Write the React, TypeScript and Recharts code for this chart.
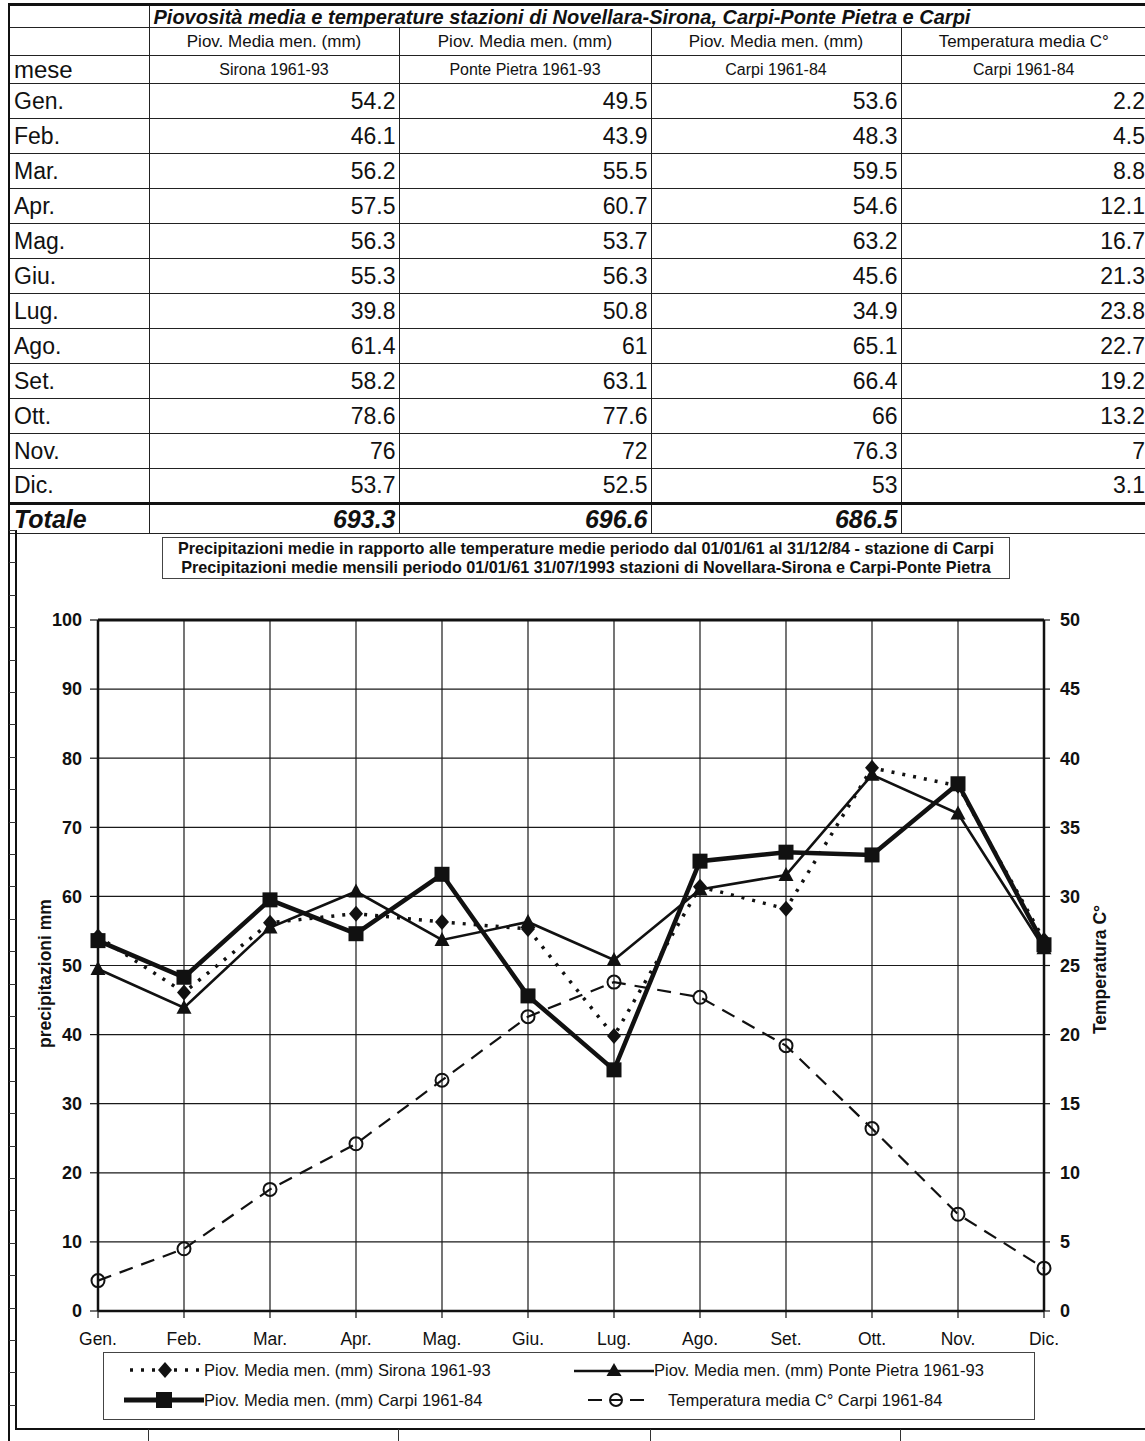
import React from "react";
import { LineChart, Line, XAxis, YAxis, CartesianGrid, ReferenceLine } from "recharts";

// Monthly means, stations Novellara-Sirona, Carpi-Ponte Pietra and Carpi
const months = ["Gen.", "Feb.", "Mar.", "Apr.", "Mag.", "Giu.", "Lug.", "Ago.", "Set.", "Ott.", "Nov.", "Dic."];
const sirona = [54.2, 46.1, 56.2, 57.5, 56.3, 55.3, 39.8, 61.4, 58.2, 78.6, 76, 53.7];
const pontePietra = [49.5, 43.9, 55.5, 60.7, 53.7, 56.3, 50.8, 61, 63.1, 77.6, 72, 52.5];
const carpi = [53.6, 48.3, 59.5, 54.6, 63.2, 45.6, 34.9, 65.1, 66.4, 66, 76.3, 53];
const tempCarpi = [2.2, 4.5, 8.8, 12.1, 16.7, 21.3, 23.8, 22.7, 19.2, 13.2, 7, 3.1];
const totals = [693.3, 696.6, 686.5];

const rainTicks = [0, 10, 20, 30, 40, 50, 60, 70, 80, 90, 100];
const tempTicks = [0, 5, 10, 15, 20, 25, 30, 35, 40, 45, 50];

const colHeads = ["Piov. Media men. (mm)", "Piov. Media men. (mm)", "Piov. Media men. (mm)", "Temperatura media C°"];
const colSubs = ["Sirona 1961-93", "Ponte Pietra 1961-93", "Carpi 1961-84", "Carpi 1961-84"];
const legendNames = [
  "Piov. Media men. (mm) Sirona 1961-93",
  "Piov. Media men. (mm) Ponte Pietra 1961-93",
  "Piov. Media men. (mm) Carpi 1961-84",
  "Temperatura media C° Carpi 1961-84",
];

const data = months.map((m, i) => ({
  mese: m,
  sirona: sirona[i],
  pontePietra: pontePietra[i],
  carpi: carpi[i],
  temp: tempCarpi[i],
}));

const FONT = "'Liberation Sans', Arial, Helvetica, sans-serif";
const INK = "#111";

// markers
const Diamond = (p: any) => (
  <polygon key={`dia-${p.index}`} points={`${p.cx},${p.cy - 8} ${p.cx + 7},${p.cy} ${p.cx},${p.cy + 8} ${p.cx - 7},${p.cy}`} fill={INK} />
);
const Triangle = (p: any) => (
  <polygon key={`tri-${p.index}`} points={`${p.cx},${p.cy - 8} ${p.cx + 7.5},${p.cy + 6} ${p.cx - 7.5},${p.cy + 6}`} fill={INK} />
);
const Square = (p: any) => (
  <rect key={`sq-${p.index}`} x={p.cx - 7.5} y={p.cy - 7.5} width={15} height={15} fill={INK} />
);
const Ring = (p: any) => (
  <circle key={`ring-${p.index}`} cx={p.cx} cy={p.cy} r={6.5} fill="none" stroke={INK} strokeWidth={2} />
);

const axisTitle = (text: string, dx: number, dy: number) => (props: any) => {
  const vb = props.viewBox || {};
  const x = vb.x + dx;
  const y = vb.y + vb.height / 2 + dy;
  return (
    <text
      x={x}
      y={y}
      transform={`rotate(-90, ${x}, ${y})`}
      textAnchor="middle"
      dominantBaseline="central"
      fontFamily={FONT}
      fontWeight="bold"
      fontSize={17.5}
      fill={INK}
    >
      {text}
    </text>
  );
};

const cell = (extra: React.CSSProperties = {}): React.CSSProperties => ({
  border: "1px solid #222",
  padding: "0 4px",
  overflow: "hidden",
  whiteSpace: "nowrap",
  lineHeight: 1,
  ...extra,
});

const HEAD_H = 28;
const ROW_H = 35;

const DataTable = () => (
  <table
    style={{
      position: "absolute",
      left: 8,
      top: 3,
      borderCollapse: "collapse",
      tableLayout: "fixed",
      width: 1137,
      fontFamily: FONT,
      color: INK,
      borderTop: "3px solid #111",
      borderLeft: "2px solid #111",
    }}
  >
    <colgroup>
      <col style={{ width: 140 }} />
      <col style={{ width: 250 }} />
      <col style={{ width: 252 }} />
      <col style={{ width: 250 }} />
      <col style={{ width: 245 }} />
    </colgroup>
    <tbody>
      <tr style={{ height: 22 }}>
        <td style={cell()} />
        <td colSpan={4} style={cell({ fontWeight: "bold", fontStyle: "italic", fontSize: 20, borderRight: "none", paddingTop: 1 })}>
          Piovosità media e temperature stazioni di Novellara-Sirona, Carpi-Ponte Pietra e Carpi
        </td>
      </tr>
      <tr style={{ height: HEAD_H }}>
        <td style={cell()} />
        {colHeads.map((h, i) => (
          <td key={i} style={cell({ textAlign: "center", fontSize: 17, borderRight: i === 3 ? "none" : undefined })}>{h}</td>
        ))}
      </tr>
      <tr style={{ height: HEAD_H }}>
        <td style={cell({ fontSize: 24 })}>mese</td>
        {colSubs.map((h, i) => (
          <td key={i} style={cell({ textAlign: "center", fontSize: 16, borderRight: i === 3 ? "none" : undefined })}>{h}</td>
        ))}
      </tr>
      {months.map((m, i) => (
        <tr key={m} style={{ height: ROW_H }}>
          <td style={cell({ fontSize: 23 })}>{m}</td>
          {[sirona[i], pontePietra[i], carpi[i], tempCarpi[i]].map((v, j) => (
            <td
              key={j}
              style={cell({ textAlign: "right", fontSize: 23, paddingRight: j === 3 ? 1 : 3, borderRight: j === 3 ? "none" : undefined })}
            >
              {v}
            </td>
          ))}
        </tr>
      ))}
      <tr style={{ height: 30 }}>
        <td style={cell({ fontSize: 25, fontWeight: "bold", fontStyle: "italic", borderTop: "3px solid #111" })}>Totale</td>
        {totals.map((t, j) => (
          <td
            key={j}
            style={cell({ textAlign: "right", fontSize: 25, fontWeight: "bold", fontStyle: "italic", borderTop: "3px solid #111", paddingRight: 3 })}
          >
            {t}
          </td>
        ))}
        <td style={cell({ borderTop: "3px solid #111", borderRight: "none" })} />
      </tr>
    </tbody>
  </table>
);

const LegendSample = ({ kind }: { kind: number }) => (
  <svg width={80} height={20} style={{ display: "block" }}>
    {kind === 0 && (
      <>
        <line x1={6} y1={10} x2={76} y2={10} stroke={INK} strokeWidth={3.5} strokeDasharray="3 8" />
        <polygon points="41,2 48,10 41,18 34,10" fill={INK} />
      </>
    )}
    {kind === 1 && (
      <>
        <line x1={0} y1={11} x2={80} y2={11} stroke={INK} strokeWidth={2.5} />
        <polygon points="40,3 47.5,16 32.5,16" fill={INK} />
      </>
    )}
    {kind === 2 && (
      <>
        <line x1={0} y1={10} x2={80} y2={10} stroke={INK} strokeWidth={5} />
        <rect x={32} y={2} width={16} height={16} fill={INK} />
      </>
    )}
    {kind === 3 && (
      <>
        <line x1={14} y1={10} x2={28} y2={10} stroke={INK} strokeWidth={2} />
        <line x1={56} y1={10} x2={70} y2={10} stroke={INK} strokeWidth={2} />
        <line x1={36} y1={10} x2={48} y2={10} stroke={INK} strokeWidth={2} />
        <circle cx={42} cy={10} r={6} fill="none" stroke={INK} strokeWidth={2} />
      </>
    )}
  </svg>
);

const ChartLegend = () => (
  <div
    style={{
      position: "absolute",
      left: 103,
      top: 1352,
      width: 932,
      height: 68,
      border: "1px solid #444",
      boxSizing: "border-box",
      fontFamily: FONT,
      fontSize: 16.5,
      color: INK,
    }}
  >
    {legendNames.map((name, i) => (
      <div
        key={i}
        style={{
          position: "absolute",
          left: i % 2 === 0 ? 20 : 470,
          top: i < 2 ? 7 : 37,
          display: "flex",
          alignItems: "center",
          whiteSpace: "nowrap",
        }}
      >
        <LegendSample kind={i} />
        <span style={{ marginLeft: i === 3 ? 14 : 0 }}>{name}</span>
      </div>
    ))}
  </div>
);

const SheetFrame = () => {
  const rowTicks = Array.from({ length: 28 }, (_, k) => 530 + k * 32.4);
  return (
    <>
      <div style={{ position: "absolute", left: 8, top: 3, width: 2, height: 1438, background: INK }} />
      <div style={{ position: "absolute", left: 15, top: 530, width: 1.5, height: 898, background: INK }} />
      <div style={{ position: "absolute", left: 15, top: 1428, width: 1130, height: 1.5, background: INK }} />
      {rowTicks.map((y) => (
        <div key={y} style={{ position: "absolute", left: 9, top: y, width: 7, height: 1, background: "#333" }} />
      ))}
      {[148, 398, 650, 900].map((x) => (
        <div key={x} style={{ position: "absolute", left: x, top: 1429, width: 1, height: 12, background: "#333" }} />
      ))}
    </>
  );
};

export default function App() {
  return (
    <div
      style={{
        position: "absolute",
        left: 0,
        top: 0,
        width: 1145,
        height: 1441,
        overflow: "hidden",
        background: "#fff",
      }}
    >
      <DataTable />
      <SheetFrame />

      <div
        style={{
          position: "absolute",
          left: 162,
          top: 537,
          width: 848,
          height: 42,
          border: "1px solid #444",
          boxSizing: "border-box",
          fontFamily: FONT,
          fontWeight: "bold",
          fontSize: 16.2,
          lineHeight: "19px",
          textAlign: "center",
          color: INK,
          paddingTop: 1,
          whiteSpace: "nowrap",
        }}
      >
        <div>Precipitazioni medie in rapporto alle temperature medie periodo dal 01/01/61 al 31/12/84 - stazione di Carpi</div>
        <div>Precipitazioni medie mensili periodo 01/01/61 31/07/1993 stazioni di Novellara-Sirona e Carpi-Ponte Pietra</div>
      </div>

      <div style={{ position: "absolute", left: 16, top: 530 }}>
        <LineChart
          width={1129}
          height={898}
          data={data}
          margin={{ top: 90, right: 0, bottom: 87, left: 0 }}
          style={{ fontFamily: FONT }}
        >
          <CartesianGrid stroke="#1a1a1a" strokeWidth={1.2} />
          <XAxis
            dataKey="mese"
            interval={0}
            padding={{ left: 0, right: 0 }}
            height={30}
            tickSize={7}
            tickMargin={15}
            tick={{ fill: INK, fontSize: 17.5, fontFamily: FONT }}
            tickLine={{ stroke: INK, strokeWidth: 1.2 }}
            axisLine={{ stroke: INK, strokeWidth: 2.5 }}
          />
          <YAxis
            domain={[0, 100]}
            ticks={rainTicks}
            width={82}
            tickSize={8}
            tickMargin={8}
            tick={{ fill: INK, fontSize: 18, fontWeight: "bold", fontFamily: FONT }}
            tickLine={{ stroke: INK, strokeWidth: 1.2 }}
            axisLine={{ stroke: INK, strokeWidth: 2.5 }}
            label={{ content: axisTitle("precipitazioni mm", 29, 8) }}
          />
          <YAxis
            yAxisId="temp"
            orientation="right"
            domain={[0, 50]}
            ticks={tempTicks}
            width={101}
            tickSize={6}
            tickMargin={10}
            tick={{ fill: INK, fontSize: 18, fontWeight: "bold", fontFamily: FONT }}
            tickLine={{ stroke: INK, strokeWidth: 1.2 }}
            axisLine={{ stroke: INK, strokeWidth: 2.5 }}
            label={{ content: axisTitle("Temperatura C°", 56, 4) }}
          />
          <ReferenceLine y={100} stroke={INK} strokeWidth={3} />
          <Line
            dataKey="temp"
            yAxisId="temp"
            stroke={INK}
            strokeWidth={2.2}
            strokeDasharray="14 9"
            dot={Ring}
            isAnimationActive={false}
          />
          <Line
            dataKey="sirona"
            stroke={INK}
            strokeWidth={3.5}
            strokeDasharray="3 8"
            dot={Diamond}
            isAnimationActive={false}
          />
          <Line
            dataKey="pontePietra"
            stroke={INK}
            strokeWidth={2.6}
            dot={Triangle}
            isAnimationActive={false}
          />
          <Line
            dataKey="carpi"
            stroke={INK}
            strokeWidth={4.5}
            dot={Square}
            isAnimationActive={false}
          />
        </LineChart>
      </div>

      <ChartLegend />
    </div>
  );
}
